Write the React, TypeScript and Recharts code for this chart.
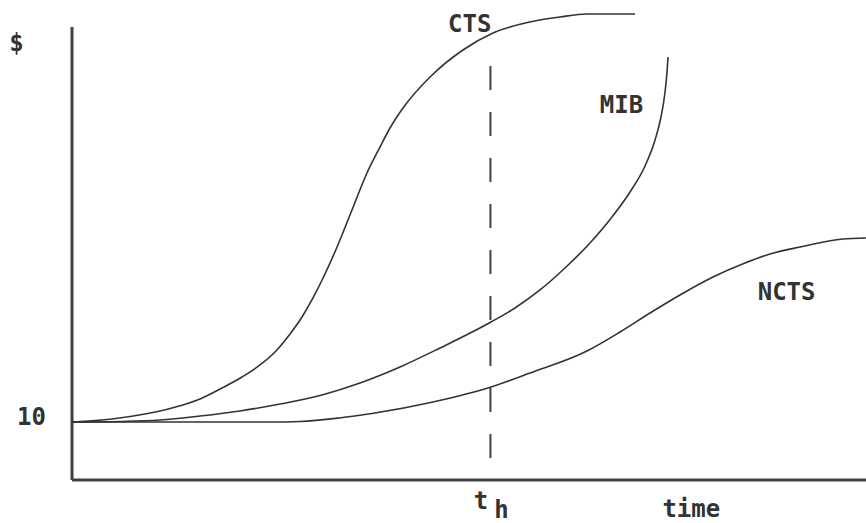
import { LineChart, Line, XAxis, YAxis, ReferenceLine, ReferenceDot } from "recharts";

// time runs 0-100 along the x axis, value in $ on the y axis
const ctsTime = [0, 5.04, 9.19, 12.59, 16.12, 18.89, 21.41, 23.68, 25.69, 27.46, 28.97, 30.35, 31.74, 33.38, 35.26, 37.15, 38.79, 40.05, 41.69, 45.09, 49.24, 53.02, 57.68, 61.46, 64.86, 70.91];
const ctsValue = [10.0, 10.52, 11.38, 12.41, 13.97, 15.86, 17.76, 19.83, 22.24, 25.17, 28.1, 31.38, 35.17, 40.17, 46.55, 52.93, 57.41, 60.69, 64.14, 69.48, 74.14, 77.07, 78.97, 79.83, 80.34, 80.34];

const mibTime = [0, 6.05, 11.08, 16.12, 21.16, 26.2, 31.49, 36.27, 41.31, 46.35, 52.77, 55.79, 58.94, 62.09, 65.24, 68.01, 70.28, 72.17, 73.43, 74.18, 74.69, 74.94, 75.06];
const mibValue = [10.0, 10.09, 10.34, 11.03, 11.9, 13.1, 14.66, 16.72, 19.48, 22.76, 27.24, 29.66, 32.76, 36.55, 40.86, 45.34, 49.66, 54.14, 58.62, 62.59, 66.9, 70.34, 72.93];

const nctsTime = [0, 24.94, 28.72, 33.63, 37.78, 45.47, 52.77, 57.68, 64.86, 69.02, 72.8, 76.57, 80.73, 84.76, 87.91, 91.69, 97.1, 100];
const nctsValue = [10.0, 10.0, 10.09, 10.69, 11.47, 13.45, 16.03, 18.45, 22.24, 25.52, 28.79, 31.9, 35.0, 37.41, 38.97, 40.17, 41.55, 41.72];

const yTicks = [10];
const tH = 52.7; // the t_h marker
const yAxisTop = 78.1;
const dashTop = 71.4;
const dashBottom = 3.1;

// curve labels: [name, time, value]
const curveLabels: [string, number, number][] = [
  ["CTS", 50.1, 77.2],
  ["MIB", 69.2, 63.3],
  ["NCTS", 90.0, 31.0],
];

const toPoints = (ts: number[], vs: number[]) => ts.map((t, i) => ({ t, v: vs[i] }));
const ctsData = toPoints(ctsTime, ctsValue);
const mibData = toPoints(mibTime, mibValue);
const nctsData = toPoints(nctsTime, nctsValue);

const INK = "#333";
const AXIS = "#404040";
const FONT = "'DejaVu Sans Mono', monospace";

const textStyle = { fontFamily: FONT, fontWeight: 700, fontSize: 24, fill: INK } as const;

const YTick = ({ x, y, payload }: any) => (
  <text x={x - 18} y={y + 3} textAnchor="end" style={textStyle}>
    {payload.value}
  </text>
);

const XTick = ({ x, y }: any) => (
  <g>
    <text x={x - 9.5} y={y + 29} textAnchor="middle" style={textStyle}>t</text>
    <text x={x + 11} y={y + 38} textAnchor="middle" style={textStyle}>h</text>
  </g>
);

const curveLabel = (name: string) => (props: any) => {
  const { x, y } = props.viewBox;
  return (
    <text x={x} y={y} textAnchor="middle" style={textStyle}>
      {name}
    </text>
  );
};

export default function App() {
  return (
    <div style={{ width: 866, height: 523, background: "#fff" }}>
      <style>{`body{margin:0}`}</style>
      <LineChart width={866} height={523} margin={{ top: 4.4, right: 0, bottom: 0, left: 0 }}>
        <XAxis
          type="number"
          dataKey="t"
          domain={[0, 100]}
          ticks={[tH]}
          tick={<XTick />}
          tickLine={false}
          tickSize={0}
          tickMargin={0}
          height={43}
          axisLine={{ stroke: AXIS, strokeWidth: 3 }}
          label={{
            content: (p: any) => (
              <text x={p.viewBox.x + p.viewBox.width * 0.78} y={p.viewBox.y + 37} textAnchor="middle" style={textStyle}>
                time
              </text>
            ),
          }}
        />
        <YAxis
          type="number"
          dataKey="v"
          domain={[0, 82]}
          ticks={yTicks}
          tick={<YTick />}
          tickLine={false}
          axisLine={false}
          width={72}
          label={{
            content: (p: any) => (
              <text x={p.viewBox.x + 16.5} y={51} textAnchor="middle" style={textStyle}>
                $
              </text>
            ),
          }}
        />
        <ReferenceLine
          segment={[{ x: 0, y: 0 }, { x: 0, y: yAxisTop }]}
          stroke={AXIS}
          strokeWidth={3}
          ifOverflow="visible"
        />
        <ReferenceLine
          segment={[{ x: tH, y: dashTop }, { x: tH, y: dashBottom }]}
          stroke={AXIS}
          strokeWidth={2}
          strokeDasharray="24 22"
          ifOverflow="visible"
        />
        <Line data={ctsData} dataKey="v" type="monotone" stroke={INK} strokeWidth={1.6} dot={false} isAnimationActive={false} />
        <Line data={mibData} dataKey="v" type="monotone" stroke={INK} strokeWidth={1.6} dot={false} isAnimationActive={false} />
        <Line data={nctsData} dataKey="v" type="monotone" stroke={INK} strokeWidth={1.6} dot={false} isAnimationActive={false} />
        {curveLabels.map(([name, t, v]) => (
          <ReferenceDot key={name} x={t} y={v} r={0} fill="none" stroke="none" ifOverflow="visible" label={{ content: curveLabel(name) }} />
        ))}
      </LineChart>
    </div>
  );
}
